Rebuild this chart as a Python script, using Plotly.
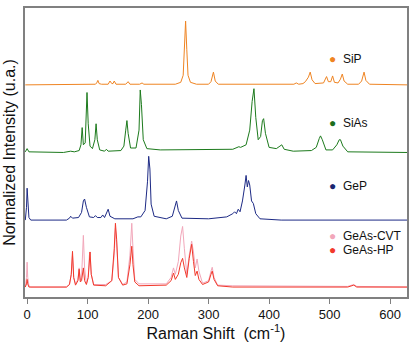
import plotly.graph_objects as go

# spectra: Raman shift (cm-1) and normalized intensity
sip_x = [-3, 60, 100, 113, 115, 117, 119, 123, 134, 137, 140, 142, 144, 147, 163, 167, 170, 186, 190, 193,
         245, 254, 258, 260, 262, 264, 266, 270, 280, 300, 304, 308, 311, 316, 430, 441, 445, 449, 456, 460,
         465, 468, 471, 476, 490, 495, 498, 502, 505, 508, 514, 518, 521, 524, 530, 548, 553, 557, 560, 566, 628]
sip_y = [0.0, 0.0, 0.01, 0.01, 0.03, 0.07, 0.02, 0.01, 0.01, 0.06, 0.02, 0.02, 0.06, 0.01, 0.01, 0.05, 0.01, 0.01, 0.03, 0.01,
         0.01, 0.04, 0.15, 0.6, 1.0, 0.55, 0.15, 0.04, 0.01, 0.01, 0.05, 0.2, 0.06, 0.01, 0.0, 0.01, 0.03, 0.01, 0.02, 0.05,
         0.12, 0.2, 0.08, 0.02, 0.03, 0.13, 0.05, 0.05, 0.14, 0.04, 0.03, 0.09, 0.17, 0.06, 0.01, 0.01, 0.06, 0.2, 0.07, 0.01, 0.0]

sias_x = [-3, 0, 3, 60, 72, 78, 86, 89, 91, 93, 96, 98, 99, 101, 104, 108, 112, 114, 116, 120, 128, 131, 134,
          155, 160, 163, 165, 167, 171, 180, 185, 187, 189, 192, 198, 220, 300, 340, 350, 353, 362, 368, 372,
          375, 378, 382, 386, 389, 391, 394, 400, 412, 418, 421, 425, 440, 470, 478, 483, 485, 488, 494, 505,
          512, 516, 518, 522, 530, 628]
sias_y = [0.01, 0.06, 0.01, 0.0, 0.02, 0.01, 0.03, 0.12, 0.39, 0.12, 0.15, 0.6, 0.94, 0.45, 0.1, 0.06, 0.2, 0.45, 0.2, 0.04, 0.02, 0.05, 0.02,
          0.03, 0.1, 0.35, 0.5, 0.3, 0.07, 0.07, 0.35, 0.98, 0.75, 0.2, 0.06, 0.04, 0.04, 0.05, 0.09, 0.08, 0.12, 0.35, 0.8,
          1.0, 0.55, 0.2, 0.25, 0.5, 0.53, 0.3, 0.08, 0.06, 0.1, 0.12, 0.05, 0.02, 0.03, 0.08, 0.22, 0.26, 0.2, 0.04, 0.04,
          0.12, 0.2, 0.2, 0.1, 0.01, 0.0]

gep_x = [-3, -1, 0, 1, 3, 6, 65, 70, 72, 75, 85, 90, 93, 95, 98, 103, 110, 113, 116, 122, 125, 128, 131, 134, 137,
         145, 175, 183, 188, 195, 199, 201, 203, 205, 210, 230, 240, 244, 247, 250, 256, 300, 330, 340, 343, 346,
         349, 352, 356, 360, 362, 364, 366, 368, 371, 374, 378, 385, 420, 628]
gep_y = [0.0, 0.2, 0.5, 0.25, 0.04, 0.0, 0.0, 0.03, 0.06, 0.03, 0.04, 0.12, 0.3, 0.33, 0.2, 0.05, 0.04, 0.07, 0.04, 0.04, 0.08, 0.04, 0.1, 0.17, 0.06,
         0.02, 0.02, 0.05, 0.05, 0.15, 0.6, 1.0, 0.8, 0.25, 0.06, 0.02, 0.06, 0.2, 0.3, 0.15, 0.03, 0.02, 0.05, 0.1, 0.13, 0.1,
         0.17, 0.13, 0.3, 0.55, 0.7, 0.52, 0.62, 0.55, 0.3, 0.26, 0.1, 0.02, 0.0, 0.0]

geas_x = [-3, -1, 0, 1, 3, 6, 65, 70, 73, 75, 77, 80, 84, 86, 88, 90, 93, 95, 98, 101, 103, 104, 106, 110, 130,
          140, 144, 146, 148, 151, 158, 165, 170, 173, 175, 178, 185, 230, 238, 242, 245, 250, 254, 257, 260,
          264, 268, 272, 275, 278, 281, 284, 290, 300, 304, 306, 309, 315, 340, 530, 540, 545, 628]
geas_cvt_y = [0.0, 0.15, 0.39, 0.15, 0.02, 0.0, 0.0, 0.04, 0.2, 0.5, 0.15, 0.05, 0.12, 0.3, 0.1, 0.15, 0.81, 0.3, 0.05, 0.15, 0.5, 0.55, 0.2, 0.04, 0.04,
              0.1, 0.5, 0.92, 0.7, 0.15, 0.04, 0.08, 0.5, 1.0, 0.6, 0.12, 0.05, 0.05, 0.15, 0.3, 0.2, 0.4, 0.8, 0.95, 0.6,
              0.2, 0.5, 0.72, 0.55, 0.3, 0.44, 0.25, 0.06, 0.1, 0.25, 0.31, 0.15, 0.03, 0.02, 0.01, 0.04, 0.01, 0.0]
geas_hp_y = [0.0, 0.05, 0.12, 0.05, 0.0, 0.0, 0.0, 0.04, 0.2, 0.56, 0.15, 0.03, 0.1, 0.28, 0.08, 0.1, 0.3, 0.1, 0.04, 0.15, 0.5, 0.55, 0.2, 0.03, 0.02,
             0.1, 0.6, 1.0, 0.75, 0.15, 0.03, 0.05, 0.35, 0.64, 0.35, 0.08, 0.02, 0.03, 0.1, 0.22, 0.12, 0.2, 0.38, 0.45, 0.3,
             0.15, 0.45, 0.67, 0.4, 0.18, 0.25, 0.12, 0.04, 0.08, 0.2, 0.25, 0.12, 0.02, 0.0, 0.0, 0.03, 0.0, 0.0]

# (name, x, y, vertical offset, colour)
series = [
    ("GeAs-CVT", geas_x, geas_cvt_y, 0.0, "#F2A7BA"),
    ("GeAs-HP", geas_x, geas_hp_y, 0.0, "#F2392B"),
    ("GeP", gep_x, gep_y, 1.05, "#1D2A85"),
    ("SiAs", sias_x, sias_y, 2.11, "#1C7A1C"),
    ("SiP", sip_x, sip_y, 3.17, "#EF8422"),
]

# legend entries placed next to each stack (paper y)
labels = [("SiP", "#EF8422", 0.825), ("SiAs", "#1C6E1C", 0.601), ("GeP", "#1A2670", 0.385),
          ("GeAs-CVT", "#F2A7BA", 0.210), ("GeAs-HP", "#F2392B", 0.162)]

fig = go.Figure()
for name, x, y, off, col in series:
    fig.add_trace(go.Scatter(x=x, y=[v + off for v in y], mode="lines", name=name,
                             line=dict(color=col, width=1)))

for text, col, yp in labels:
    fig.add_annotation(x=0.79, y=yp, xref="paper", yref="paper", xanchor="left", yanchor="middle",
                       showarrow=False, text=f"<span style='color:{col}'>●</span>  {text}",
                       font=dict(size=12, color="#111111"))

fig.update_layout(
    width=415, height=346,
    margin=dict(l=25, r=6, t=6, b=49),
    plot_bgcolor="white", paper_bgcolor="white",
    showlegend=False,
    font=dict(family="Liberation Sans, Arial", size=13, color="#111111"),
)
fig.update_xaxes(range=[-3.5, 628], dtick=100, ticks="outside", ticklen=5, tickcolor="#808080",
                 showline=True, linecolor="#808080", linewidth=1.5, mirror=True, showgrid=False, zeroline=False,
                 title=dict(text="Raman Shift  (cm<sup>-1</sup>)", standoff=4))
fig.update_yaxes(range=[-0.156, 4.375], showticklabels=False, ticks="", showline=True, linecolor="#808080",
                 linewidth=1.5, mirror=True, showgrid=False, zeroline=False,
                 title=dict(text="Normalized Intensity (u.a.)", standoff=4))

# drop the browser's default page margin so the figure sits at the window corner
fig.write_html("out.html", config={"displayModeBar": False},
               post_script="document.body.style.margin='0';")
